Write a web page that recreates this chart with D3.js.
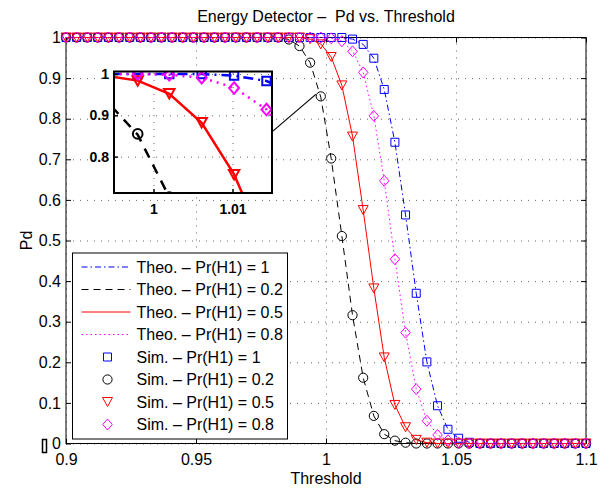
<!DOCTYPE html>
<html>
<head>
<meta charset="utf-8">
<script src="https://cdn.jsdelivr.net/npm/d3@7"></script>
<style>
body { margin: 0; background: #fff; }
text { font-family: "Liberation Sans", Arial, Helvetica, sans-serif; }
</style>
</head>
<body>
<svg id="chart" width="612" height="489"></svg>
<script>
// thresholds (x) shared by every series
var thresholds = [0.9, 0.9041, 0.9082, 0.9122, 0.9163, 0.9204, 0.9245, 0.9286, 0.9327, 0.9367,
  0.9408, 0.9449, 0.9490, 0.9531, 0.9571, 0.9612, 0.9653, 0.9694, 0.9735, 0.9776,
  0.9816, 0.9857, 0.9898, 0.9939, 0.9980, 1.0020, 1.0061, 1.0102, 1.0143, 1.0184,
  1.0224, 1.0265, 1.0306, 1.0347, 1.0388, 1.0429, 1.0469, 1.0510, 1.0551, 1.0592,
  1.0633, 1.0673, 1.0714, 1.0755, 1.0796, 1.0837, 1.0878, 1.0918, 1.0959, 1.1];

// theoretical Pd
var theoP1 = [1, 1, 1, 1, 1, 1, 1, 1, 1, 1, 1, 1, 1, 1, 1, 1, 1, 1, 1, 1, 1, 1, 1, 1, 1, 1, 1,
  0.996, 0.983, 0.949, 0.872, 0.742, 0.563, 0.370, 0.201, 0.093, 0.035, 0.012, 0.003,
  0, 0, 0, 0, 0, 0, 0, 0, 0, 0, 0];
var theoP02 = [1, 1, 1, 1, 1, 1, 1, 1, 1, 1, 1, 1, 1, 1, 1, 1, 1, 1, 1, 1, 1,
  0.995, 0.979, 0.938, 0.853, 0.702, 0.511, 0.316, 0.162, 0.068, 0.023, 0.007, 0.002,
  0, 0, 0, 0, 0, 0, 0, 0, 0, 0, 0, 0, 0, 0, 0, 0, 0];
var theoP05 = [1, 1, 1, 1, 1, 1, 1, 1, 1, 1, 1, 1, 1, 1, 1, 1, 1, 1, 1, 1, 1, 1, 1,
  0.996, 0.984, 0.952, 0.882, 0.757, 0.575, 0.382, 0.212, 0.095, 0.040, 0.009, 0.002,
  0, 0, 0, 0, 0, 0, 0, 0, 0, 0, 0, 0, 0, 0, 0];
var theoP08 = [1, 1, 1, 1, 1, 1, 1, 1, 1, 1, 1, 1, 1, 1, 1, 1, 1, 1, 1, 1, 1, 1, 1, 1, 1,
  0.998, 0.991, 0.967, 0.914, 0.807, 0.647, 0.454, 0.273, 0.134, 0.056, 0.021, 0.008, 0.002,
  0, 0, 0, 0, 0, 0, 0, 0, 0, 0, 0, 0];

// simulated Pd
var simP1 = [1, 1, 1, 1, 1, 1, 1, 1, 1, 1, 1, 1, 1, 1, 1, 1, 1, 1, 1, 1, 1, 1, 1, 1, 1, 1, 1,
  0.996, 0.983, 0.949, 0.872, 0.742, 0.563, 0.370, 0.201, 0.093, 0.035, 0.013, 0.003,
  0, 0, 0, 0, 0, 0, 0, 0, 0, 0, 0];
var simP02 = [1, 1, 1, 1, 1, 1, 1, 1, 1, 1, 1, 1, 1, 1, 1, 1, 1, 1, 1, 1, 1,
  0.995, 0.979, 0.938, 0.855, 0.702, 0.511, 0.316, 0.162, 0.068, 0.023, 0.007, 0.002,
  0, 0, 0, 0, 0, 0, 0, 0, 0, 0, 0, 0, 0, 0, 0, 0, 0];
var simP05 = [1, 1, 1, 1, 1, 1, 1, 1, 1, 1, 1, 1, 1, 1, 1, 1, 1, 1, 1, 1, 1, 1, 1,
  0.996, 0.983, 0.952, 0.882, 0.756, 0.575, 0.382, 0.212, 0.095, 0.040, 0.009, 0.002,
  0, 0, 0, 0, 0, 0, 0, 0, 0, 0, 0, 0, 0, 0, 0];
var simP08 = [1, 1, 1, 1, 1, 1, 1, 1, 1, 1, 1, 1, 1, 1, 1, 1, 1, 1, 1, 1, 1, 1, 1, 1, 1,
  0.998, 0.991, 0.966, 0.914, 0.807, 0.647, 0.454, 0.273, 0.134, 0.056, 0.021, 0.008, 0.002,
  0, 0, 0, 0, 0, 0, 0, 0, 0, 0, 0, 0];

var xTicks = [0.9, 0.95, 1, 1.05, 1.1];
var yTicks = [0, 0.1, 0.2, 0.3, 0.4, 0.5, 0.6, 0.7, 0.8, 0.9, 1];
var insetXTicks = [1, 1.01];
var insetYTicks = [0.8, 0.9, 1];

var theoLabels = ["Theo. \u2013 Pr(H1) = 1", "Theo. \u2013 Pr(H1) = 0.2", "Theo. \u2013 Pr(H1) = 0.5", "Theo. \u2013 Pr(H1) = 0.8"];
var simLabels = ["Sim. \u2013 Pr(H1) = 1", "Sim. \u2013 Pr(H1) = 0.2", "Sim. \u2013 Pr(H1) = 0.5", "Sim. \u2013 Pr(H1) = 0.8"];

var series = [
  {theo: theoP1, sim: simP1, color: "#0000ff", dash: "6,3,1.5,3", marker: "square"},
  {theo: theoP02, sim: simP02, color: "#000000", dash: "7,5", marker: "circle"},
  {theo: theoP05, sim: simP05, color: "#ff0000", dash: null, marker: "tri"},
  {theo: theoP08, sim: simP08, color: "#ff00ff", dash: "1.5,3", marker: "diamond"}
];

var margin = {top: 37.5, right: 26, bottom: 45.5, left: 66};
var svgWidth = 612, svgHeight = 489;
var width = svgWidth - margin.left - margin.right;
var height = svgHeight - margin.top - margin.bottom;

var svg = d3.select("#chart");
var fontSize = 16;

function markerPath(type, k) {
  k = k || 1;
  if (type == "square") { var s = 8 * k; return "M" + (-s/2) + "," + (-s/2) + "h" + s + "v" + s + "h" + (-s) + "Z"; }
  if (type == "circle") { var r = 4.6 * k; return "M" + (-r) + ",0a" + r + "," + r + " 0 1,0 " + (2*r) + ",0a" + r + "," + r + " 0 1,0 " + (-2*r) + ",0"; }
  if (type == "tri") { var w = 10 * k, h = 9 * k; return "M" + (-w/2) + "," + (-h/2) + "L" + (w/2) + "," + (-h/2) + "L0," + (h/2) + "Z"; }
  var dw = 9.5 * k, dh = 11 * k;
  return "M0," + (-dh/2) + "L" + (dw/2) + ",0L0," + (dh/2) + "L" + (-dw/2) + ",0Z";
}

var x = d3.scaleLinear().domain([0.9, 1.1]).range([0, width]);
var y = d3.scaleLinear().domain([0, 1]).range([height, 0]);

var g = svg.append("g").attr("transform", "translate(" + margin.left + "," + margin.top + ")");

// grid
g.append("g")
  .attr("transform", "translate(0," + height + ")")
  .call(d3.axisBottom(x).tickValues(xTicks).tickSize(-height).tickFormat(""))
  .call(a => a.select(".domain").remove())
  .selectAll("line").attr("stroke", "#666").attr("stroke-dasharray", "1,6");
g.append("g")
  .call(d3.axisLeft(y).tickValues(yTicks).tickSize(-width).tickFormat(""))
  .call(a => a.select(".domain").remove())
  .selectAll("line").attr("stroke", "#666").attr("stroke-dasharray", "1,6");

// axes with inward ticks
var xAxis = g.append("g")
  .attr("transform", "translate(0," + height + ")")
  .call(d3.axisBottom(x).tickValues(xTicks).tickSize(-5).tickPadding(10).tickFormat(d3.format("")));
var yAxis = g.append("g")
  .call(d3.axisLeft(y).tickValues(yTicks).tickSize(-5).tickPadding(5).tickFormat(d3.format("")));
g.append("g").call(d3.axisTop(x).tickValues(xTicks).tickSize(-5).tickFormat(""));
g.append("g").attr("transform", "translate(" + width + ",0)")
  .call(d3.axisRight(y).tickValues(yTicks).tickSize(-5).tickFormat(""));
g.selectAll(".domain").remove();
g.selectAll(".tick line").filter(function() { return this.getAttribute("stroke-dasharray") == null; })
  .attr("stroke", "#000");
xAxis.selectAll("text").attr("font-size", fontSize).attr("font-family", null).attr("fill", "#000");
yAxis.selectAll("text").attr("font-size", fontSize).attr("font-family", null).attr("fill", "#000");

g.append("rect").attr("width", width).attr("height", height)
  .attr("fill", "none").attr("stroke", "#000").attr("stroke-width", 1);

// theory lines
var line = d3.line().x(d => x(d[0])).y(d => y(d[1]));
series.forEach(function(s) {
  g.append("path")
    .datum(d3.zip(thresholds, s.theo))
    .attr("fill", "none")
    .attr("stroke", s.color)
    .attr("stroke-width", 1)
    .attr("stroke-dasharray", s.dash)
    .attr("d", line);
});
// simulated markers
series.forEach(function(s) {
  g.append("g").selectAll("path")
    .data(d3.zip(thresholds, s.sim))
    .join("path")
    .attr("transform", d => "translate(" + x(d[0]) + "," + y(d[1]) + ")")
    .attr("d", markerPath(s.marker))
    .attr("fill", "none")
    .attr("stroke", s.color)
    .attr("stroke-width", 1);
});

// titles
svg.append("text").attr("x", margin.left + width / 2).attr("y", 22)
  .attr("text-anchor", "middle").attr("font-size", fontSize).text("Energy Detector \u2013  Pd vs. Threshold")
  .attr("xml:space", "preserve").style("white-space", "pre");
svg.append("text").attr("x", margin.left + width / 2).attr("y", 484)
  .attr("text-anchor", "middle").attr("font-size", fontSize).text("Threshold");
svg.append("text").attr("transform", "translate(32," + (margin.top + height / 2) + ") rotate(-90)")
  .attr("text-anchor", "middle").attr("font-size", fontSize).text("Pd");
// stray glyph box next to the 0 label
svg.append("rect").attr("x", 42.5).attr("y", 439.5).attr("width", 4).attr("height", 13)
  .attr("fill", "none").attr("stroke", "#000").attr("stroke-width", 1.5);

// legend
var legend = svg.append("g").attr("transform", "translate(72.5,253)");
legend.append("rect").attr("width", 215).attr("height", 186)
  .attr("fill", "#fff").attr("stroke", "#000").attr("stroke-width", 1);
var rowY = d => 14 + d * 22.5;
series.forEach(function(s, i) {
  legend.append("line").attr("x1", 9).attr("x2", 58).attr("y1", rowY(i)).attr("y2", rowY(i))
    .attr("stroke", s.color).attr("stroke-dasharray", s.dash);
  legend.append("text").attr("x", 64).attr("y", rowY(i)).attr("dy", "0.35em")
    .attr("font-size", fontSize).text(theoLabels[i]);
});
series.forEach(function(s, i) {
  legend.append("path").attr("transform", "translate(35," + rowY(i + 4) + ")")
    .attr("d", markerPath(s.marker)).attr("fill", "none").attr("stroke", s.color);
  legend.append("text").attr("x", 64).attr("y", rowY(i + 4)).attr("dy", "0.35em")
    .attr("font-size", fontSize).text(simLabels[i]);
});

// zoomed inset
var inset = {left: 114, top: 71.5, right: 272, bottom: 193};
var xi = d3.scaleLinear().domain([0.995, 1.015]).range([inset.left, inset.right]);
var yi = d3.scaleLinear().domain([0.712, 1.006]).range([inset.bottom, inset.top]);

// connector from inset to the zoomed region
svg.append("line")
  .attr("x1", inset.right).attr("y1", yi(0.86))
  .attr("x2", margin.left + x(thresholds[24]) - 5).attr("y2", margin.top + y(simP02[24]) - 2)
  .attr("stroke", "#000").attr("stroke-width", 1.2);

svg.append("clipPath").attr("id", "insetClip").append("rect")
  .attr("x", inset.left).attr("y", inset.top)
  .attr("width", inset.right - inset.left).attr("height", inset.bottom - inset.top);
var ig = svg.append("g");
ig.append("rect").attr("x", inset.left).attr("y", inset.top)
  .attr("width", inset.right - inset.left).attr("height", inset.bottom - inset.top).attr("fill", "#fff");
ig.append("g").attr("transform", "translate(0," + inset.bottom + ")")
  .call(d3.axisBottom(xi).tickValues(insetXTicks).tickSize(-(inset.bottom - inset.top)).tickFormat(""))
  .call(a => a.select(".domain").remove())
  .selectAll("line").attr("stroke", "#666").attr("stroke-dasharray", "1,6");
ig.append("g").attr("transform", "translate(" + inset.left + ",0)")
  .call(d3.axisLeft(yi).tickValues(insetYTicks).tickSize(-(inset.right - inset.left)).tickFormat(""))
  .call(a => a.select(".domain").remove())
  .selectAll("line").attr("stroke", "#666").attr("stroke-dasharray", "1,6");

var ic = ig.append("g").attr("clip-path", "url(#insetClip)");
var iline = d3.line().x(d => xi(d[0])).y(d => yi(d[1]));
var insetDash = ["10,5,2,5", "10,8", null, "2,5"];
series.forEach(function(s, i) {
  ic.append("path")
    .datum(d3.zip(thresholds, s.theo))
    .attr("fill", "none").attr("stroke", s.color).attr("stroke-width", 2.5)
    .attr("stroke-dasharray", insetDash[i]).attr("d", iline);
});
series.forEach(function(s) {
  ic.append("g").selectAll("path")
    .data(d3.zip(thresholds, s.sim))
    .join("path")
    .attr("transform", d => "translate(" + xi(d[0]) + "," + yi(d[1]) + ")")
    .attr("d", markerPath(s.marker, 1.05))
    .attr("fill", "none").attr("stroke", s.color).attr("stroke-width", 2);
});

var ixAxis = ig.append("g").attr("transform", "translate(0," + inset.bottom + ")")
  .call(d3.axisBottom(xi).tickValues(insetXTicks).tickSize(-4).tickPadding(11).tickFormat(d3.format("")));
var iyAxis = ig.append("g").attr("transform", "translate(" + inset.left + ",0)")
  .call(d3.axisLeft(yi).tickValues(insetYTicks).tickSize(-4).tickPadding(5).tickFormat(d3.format("")));
ig.selectAll(".domain").remove();
[ixAxis, iyAxis].forEach(function(a) {
  a.selectAll(".tick line").attr("stroke", "#000").attr("stroke-width", 1.5);
  a.selectAll("text").attr("font-size", 14).attr("font-weight", "bold")
    .attr("font-family", null).attr("fill", "#000");
});
ig.append("rect").attr("x", inset.left).attr("y", inset.top)
  .attr("width", inset.right - inset.left).attr("height", inset.bottom - inset.top)
  .attr("fill", "none").attr("stroke", "#000").attr("stroke-width", 2);
</script>
</body>
</html>
